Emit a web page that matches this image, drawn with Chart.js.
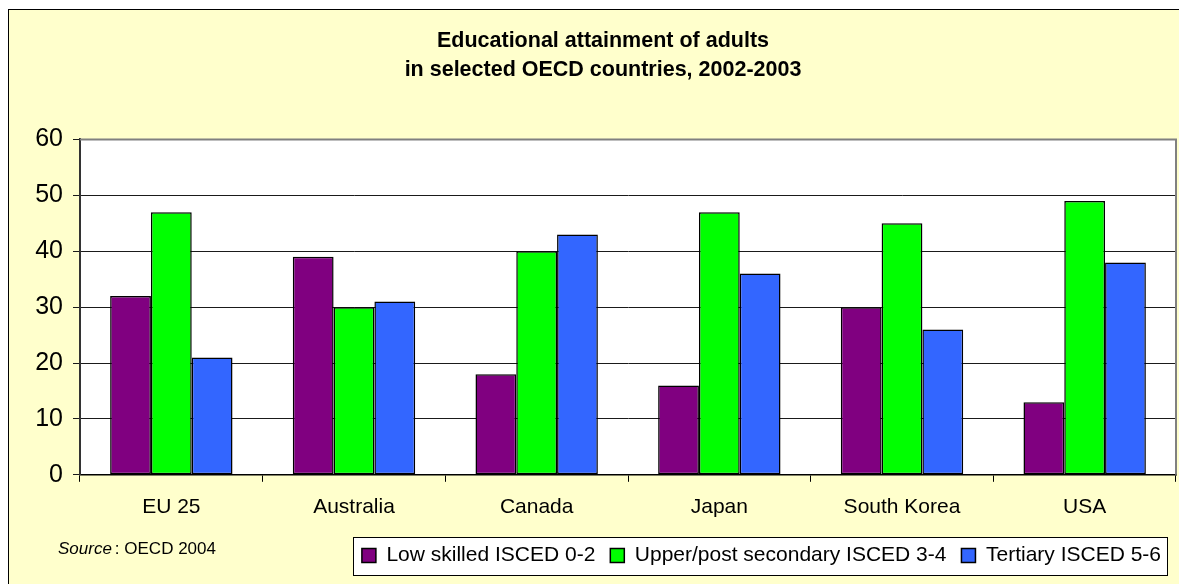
<!DOCTYPE html>
<html>
<head>
<meta charset="utf-8">
<title>Educational attainment of adults</title>
<script src="https://cdn.jsdelivr.net/npm/chart.js@4"></script>
<style>
  html, body { margin: 0; padding: 0; background: #fff; overflow: hidden; width: 1179px; height: 584px; }
  .frame { position: absolute; left: 8px; top: 9px; width: 1200px; height: 600px; border: 1px solid #000; background: #ffffcc; }
  #myChart { position: absolute; left: 30px; top: 10px; }
</style>
</head>
<body>
<div class="frame"></div>
<canvas id="myChart" width="1170" height="574"></canvas>
<script>
// data
let countries = ['EU 25', 'Australia', 'Canada', 'Japan', 'South Korea', 'USA'];
let lowSkilled = [32, 39, 18, 16, 30, 13];
let upperSecondary = [47, 30, 40, 47, 45, 49];
let tertiary = [21, 31, 43, 36, 26, 38];
let seriesNames = ['Low skilled ISCED 0-2', 'Upper/post secondary ISCED 3-4', 'Tertiary ISCED 5-6'];
let seriesColors = ['#800080', '#00ff00', '#3366ff'];
let yTicks = [0, 10, 20, 30, 40, 50, 60];
let titleLines = ['Educational attainment of adults', 'in selected OECD countries, 2002-2003'];
let sourceLabel = 'Source';
let sourceText = ': OECD 2004';

Chart.defaults.font.family = '"Liberation Sans", Arial, sans-serif';
Chart.defaults.color = '#000';

// white plot area + white legend box
const plotBackground = {
  id: 'plotBackground',
  beforeDraw(chart) {
    const { ctx, chartArea } = chart;
    ctx.save();
    ctx.fillStyle = '#fff';
    ctx.fillRect(chartArea.left, chartArea.top, chartArea.width, chartArea.height);
    ctx.restore();

    const boxes = chart.legend.legendHitBoxes;
    if (boxes && boxes.length) {
      const first = boxes[0];
      const last = boxes[boxes.length - 1];
      const midY = first.top + first.height / 2;
      ctx.save();
      ctx.fillStyle = '#fff';
      ctx.strokeStyle = '#000';
      ctx.lineWidth = 1;
      const x = Math.round(first.left - 9) + 0.5;
      const y = Math.round(midY - 19) + 0.5;
      const w = Math.round(last.left + last.width + 6 - x);
      ctx.fillRect(x, y, w, 38);
      ctx.strokeRect(x, y, w, 38);
      ctx.restore();
    }
  }
};

// grey frame on top and right of the plot
const plotFrame = {
  id: 'plotFrame',
  beforeDatasetsDraw(chart) {
    const { ctx, chartArea } = chart;
    ctx.save();
    ctx.strokeStyle = '#808080';
    ctx.lineWidth = 2;
    ctx.beginPath();
    ctx.moveTo(chartArea.left, chartArea.top);
    ctx.lineTo(chartArea.right, chartArea.top);
    ctx.lineTo(chartArea.right, chartArea.bottom);
    ctx.stroke();
    ctx.restore();
  }
};

// source note left of the legend
const sourceNote = {
  id: 'sourceNote',
  afterDraw(chart) {
    const { ctx } = chart;
    const boxes = chart.legend.legendHitBoxes;
    if (!boxes || !boxes.length) return;
    const y = boxes[0].top + boxes[0].height / 2 - 6;
    ctx.save();
    ctx.fillStyle = '#000';
    ctx.textBaseline = 'middle';
    ctx.textAlign = 'left';
    ctx.font = 'italic 17px "Liberation Sans", Arial, sans-serif';
    ctx.fillText(sourceLabel, 28, y);
    const w = ctx.measureText(sourceLabel).width;
    ctx.font = '17px "Liberation Sans", Arial, sans-serif';
    ctx.fillText(sourceText, 28 + w + 3, y);
    ctx.restore();
  }
};

const ctx = document.getElementById('myChart');
let allSeries = [lowSkilled, upperSecondary, tertiary];

new Chart(ctx, {
  type: 'bar',
  data: {
    labels: countries,
    datasets: allSeries.map((values, i) => ({
      label: seriesNames[i],
      data: values,
      backgroundColor: seriesColors[i],
      borderColor: '#000',
      borderWidth: 1.5,
      borderSkipped: false,
      categoryPercentage: 0.67,
      barPercentage: 1.0,
    })),
  },
  options: {
    responsive: false,
    animation: false,
    layout: { padding: { left: 0, right: 24, top: 0, bottom: 8 } },
    plugins: {
      title: {
        display: true,
        text: titleLines,
        font: { size: 21.5, weight: 'bold', lineHeight: 1.36 },
        padding: { top: 16, bottom: 55 },
      },
      legend: {
        position: 'bottom',
        align: 'end',
        labels: {
          boxWidth: 14,
          boxHeight: 14,
          padding: 15,
          font: { size: 21 },
        },
      },
      tooltip: { enabled: false },
    },
    scales: {
      x: {
        afterFit(scale) {
          scale.height -= 3;
        },
        grid: {
          drawOnChartArea: false,
          drawTicks: true,
          tickLength: 7,
          color: '#000',
          offset: true,
        },
        border: { display: true, color: '#000', width: 1.5 },
        ticks: { font: { size: 21 }, padding: 13 },
      },
      y: {
        min: yTicks[0],
        max: yTicks[yTicks.length - 1],
        afterFit(scale) {
          scale.width = 50;
        },
        ticks: { stepSize: yTicks[1] - yTicks[0], font: { size: 25 }, padding: 10 },
        grid: { color: '#1a1a1a', lineWidth: 1, tickLength: 7 },
        border: { display: true, color: '#333', width: 2 },
      },
    },
  },
  plugins: [plotBackground, plotFrame, sourceNote],
});
</script>
</body>
</html>
